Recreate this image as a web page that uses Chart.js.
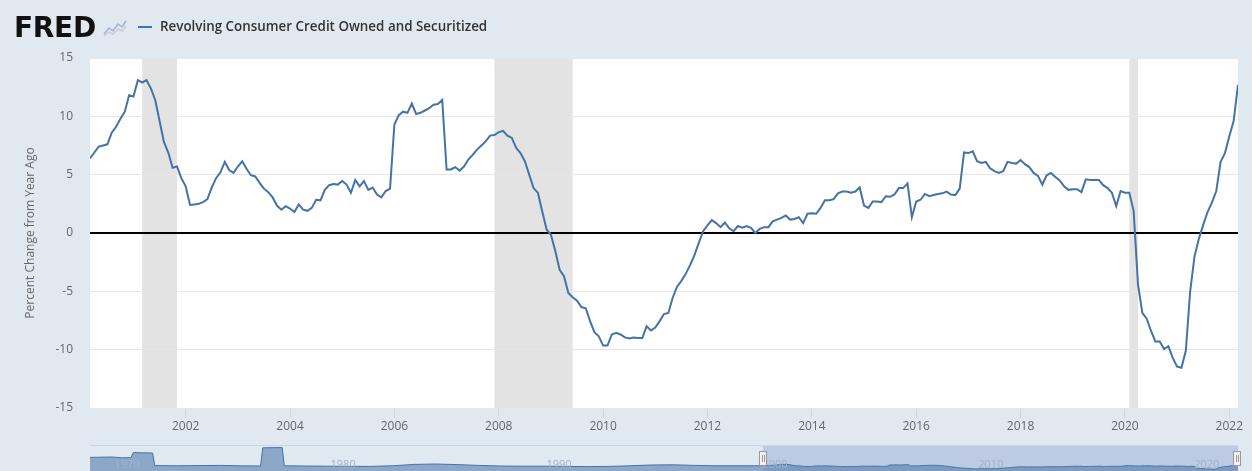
<!DOCTYPE html>
<html lang="en">
<head>
  <meta charset="UTF-8">
  <title>Revolving Consumer Credit Owned and Securitized</title>
  <script src="https://cdn.jsdelivr.net/npm/chart.js"></script>
  <style>
    body {
      margin: 0;
      padding: 0;
      background-color: #e1e9f0;
      font-family: 'Open Sans', sans-serif;
    }
    #wrap {
      position: relative;
      width: 1252px;
      height: 471px;
      overflow: hidden;
    }
    #mainChart { position: absolute; left: 0; top: 0; }
    #navChart { position: absolute; left: 0; top: 445px; }
    .logo {
      position: absolute;
      left: 14px;
      top: 14px;
      font-family: 'DejaVu Sans', sans-serif;
      font-weight: bold;
      font-size: 28px;
      line-height: 28px;
      letter-spacing: -0.3px;
      color: #111;
    }
    .logo-icon { position: absolute; left: 103px; top: 19px; }
    .legend-line {
      position: absolute;
      left: 138px;
      top: 26px;
      width: 14px;
      height: 2px;
      background: #4572a7;
    }
    .legend-text {
      position: absolute;
      left: 160px;
      top: 18px;
      font-family: 'Open Sans', sans-serif;
      font-weight: 600;
      font-size: 13.4px;
      line-height: 16px;
      color: #333;
      white-space: nowrap;
    }
  </style>
</head>
<body>
  <div id="wrap">
    <canvas id="mainChart" width="1252" height="471"></canvas>
    <canvas id="navChart" width="1252" height="26"></canvas>
    <span class="logo">FRED</span>
    <svg class="logo-icon" width="24" height="18">
      <polyline points="1,17 6,13 10,15 15,10 19,12 23,7" fill="none" stroke="#c9ced6" stroke-width="1.5"/>
      <polyline points="1,15 6,9 10,12 15,5 19,8 23,2" fill="none" stroke="#9db4cf" stroke-width="1.5"/>
    </svg>
    <span class="legend-line"></span>
    <span class="legend-text">Revolving Consumer Credit Owned and Securitized</span>
  </div>
  <script>
    // Monthly series, percent change from year ago, first value = Mar 2000
    const startYear = 2000;
    const startMonth = 3;
    const yoy = [
      6.4, 6.9, 7.4, 7.5, 7.6, 8.6, 9.1, 9.8, 10.4, 11.8,                  // 2000 (Mar-Dec)
      11.7, 13.1, 12.9, 13.1, 12.4, 11.4, 9.6, 7.8, 6.9, 5.6, 5.7, 4.7,   // 2001
      4.0, 2.4, 2.45, 2.5, 2.65, 2.9, 3.9, 4.7, 5.2, 6.1, 5.4, 5.15,       // 2002
      5.7, 6.15, 5.5, 4.95, 4.85, 4.3, 3.8, 3.5, 3.05, 2.35, 2.0, 2.3,     // 2003
      2.1, 1.8, 2.45, 2.0, 1.9, 2.15, 2.85, 2.8, 3.7, 4.1, 4.2, 4.15,      // 2004
      4.45, 4.15, 3.45, 4.55, 4.0, 4.45, 3.7, 3.9, 3.3, 3.05, 3.6, 3.8,    // 2005
      9.3, 10.1, 10.4, 10.3, 11.1, 10.2, 10.3, 10.5, 10.7, 11.0, 11.05, 11.4, // 2006
      5.45, 5.45, 5.65, 5.35, 5.7, 6.3, 6.7, 7.15, 7.5, 7.85, 8.35, 8.4,   // 2007
      8.65, 8.75, 8.35, 8.15, 7.3, 6.85, 6.15, 5.0, 3.85, 3.45, 1.85, 0.3, // 2008
      -0.15, -1.55, -3.15, -3.7, -5.15, -5.5, -5.8, -6.35, -6.45, -7.55, -8.5, -8.85, // 2009
      -9.65, -9.65, -8.7, -8.55, -8.7, -8.95, -9.05, -8.95, -9.0, -9.0, -8.0, -8.35,  // 2010
      -8.1, -7.55, -6.95, -6.85, -5.55, -4.6, -4.1, -3.5, -2.75, -1.9, -0.85, 0.15,   // 2011
      0.65, 1.1, 0.85, 0.5, 0.9, 0.4, 0.15, 0.6, 0.45, 0.6, 0.45, 0.0,     // 2012
      0.35, 0.5, 0.5, 1.0, 1.15, 1.3, 1.5, 1.15, 1.2, 1.35, 0.85, 1.65,    // 2013
      1.7, 1.65, 2.15, 2.8, 2.8, 2.9, 3.4, 3.55, 3.55, 3.45, 3.55, 3.9,    // 2014
      2.35, 2.15, 2.7, 2.7, 2.65, 3.15, 3.1, 3.3, 3.85, 3.85, 4.25, 1.35,  // 2015
      2.7, 2.85, 3.35, 3.15, 3.25, 3.35, 3.4, 3.55, 3.3, 3.25, 3.8, 6.9,   // 2016
      6.85, 7.0, 6.15, 6.0, 6.1, 5.55, 5.3, 5.15, 5.3, 6.1, 6.0, 5.95,     // 2017
      6.25, 5.9, 5.65, 5.15, 4.9, 4.15, 4.95, 5.15, 4.8, 4.5, 4.0, 3.7,    // 2018
      3.75, 3.75, 3.5, 4.6, 4.55, 4.55, 4.55, 4.1, 3.85, 3.45, 2.3, 3.6,   // 2019
      3.45, 3.45, 1.9, -4.4, -6.85, -7.35, -8.4, -9.3, -9.3, -9.95, -9.7, -10.7, // 2020
      -11.45, -11.55, -10.1, -5.0, -2.0, -0.5, 0.7, 1.8, 2.6, 3.6, 6.1, 6.85,    // 2021
      8.3, 9.6, 12.7                                                       // 2022 (Jan-Mar)
    ];

    const tickYears = [2002, 2004, 2006, 2008, 2010, 2012, 2014, 2016, 2018, 2020, 2022];
    const yTicks = [-15, -10, -5, 0, 5, 10, 15];

    // recession shading (peak month, trough month)
    const recessionStart = ['2001-03', '2007-12', '2020-02'];
    const recessionEnd = ['2001-11', '2009-06', '2020-04'];

    // navigator: earlier history, read roughly off the small strip
    const navYears = [1969.0, 1970.0, 1970.5, 1970.9, 1971.0, 1971.9, 1972.0, 1973, 1974, 1975, 1976, 1976.9,
                      1977.0, 1977.9, 1978.0, 1979, 1980, 1981, 1982, 1983, 1984, 1985, 1986, 1987,
                      1988, 1989, 1990, 1991, 1992, 1993, 1994, 1995, 1996, 1997, 1998, 1999, 2000.0];
    const navValues = [48, 50, 46, 47, 72, 70, 7, 6, 7, 8, 6, 5,
                       96, 97, 6, 5, 4, 3, 3, 6, 13, 15, 12, 8,
                       5, 4, 4, 3, 2, 3, 6, 10, 11, 8, 6, 6, 6.2];
    const navTickLabels = ['1970', '1980', '1990', '2000', '2010', '2020'];

    const toYear = (s) => {
      const [y, m] = s.split('-').map(Number);
      return y + (m - 1) / 12;
    };

    const points = yoy.map((v, i) => ({ x: startYear + (startMonth - 1 + i) / 12, y: v }));
    const xMin = points[0].x;
    const xMax = points[points.length - 1].x;

    const fontFamily = "'Open Sans', sans-serif";

    // white plot background + recession bars
    const plotBackground = {
      id: 'plotBackground',
      beforeDraw(chart) {
        const { ctx, chartArea: a, scales: { x } } = chart;
        ctx.save();
        ctx.fillStyle = '#ffffff';
        ctx.fillRect(a.left, a.top, a.width, a.height);
        ctx.fillStyle = '#e3e3e3';
        recessionStart.forEach((s, k) => {
          const x0 = x.getPixelForValue(toYear(s));
          const x1 = x.getPixelForValue(toYear(recessionEnd[k]));
          ctx.fillRect(x0, a.top, x1 - x0, a.height);
        });
        ctx.restore();
      }
    };

    new Chart(document.getElementById('mainChart').getContext('2d'), {
      type: 'line',
      data: {
        datasets: [{
          label: 'Revolving Consumer Credit Owned and Securitized',
          data: points,
          borderColor: '#4572a7',
          borderWidth: 2,
          pointRadius: 0,
          tension: 0,
          fill: false,
        }],
      },
      options: {
        responsive: false,
        animation: false,
        layout: { padding: { left: 0, right: 14, top: 58, bottom: 0 } },
        plugins: { legend: { display: false }, tooltip: { enabled: false } },
        scales: {
          x: {
            type: 'linear',
            min: xMin,
            max: xMax,
            afterBuildTicks: (s) => { s.ticks = tickYears.map((v) => ({ value: v })); },
            afterFit: (s) => { s.height = 63; },
            grid: { drawOnChartArea: false, drawTicks: true, tickLength: 10, color: '#ccd6eb' },
            border: { display: false },
            ticks: {
              color: '#666',
              font: { family: fontFamily, size: 12 },
              padding: 1,
              maxRotation: 0,
              autoSkip: false,
              callback: (v) => String(v),
            },
          },
          y: {
            min: -15,
            max: 15,
            afterBuildTicks: (s) => { s.ticks = yTicks.map((v) => ({ value: v })); },
            afterFit: (s) => { s.width = 90; },
            grid: {
              drawTicks: false,
              color: (c) => (c.tick && c.tick.value === 0 ? '#000000' : '#e6e6e6'),
              lineWidth: (c) => (c.tick && c.tick.value === 0 ? 2 : 1),
            },
            border: { display: false },
            ticks: { color: '#666', font: { family: fontFamily, size: 12 }, padding: 17 },
            title: {
              display: true,
              text: 'Percent Change from Year Ago',
              color: '#666',
              font: { family: fontFamily, size: 12 },
              padding: { top: 23, bottom: 0 },
            },
          },
        },
      },
      plugins: [plotBackground],
    });

    // navigator strip under the chart
    const navDecor = {
      id: 'navDecor',
      beforeDatasetsDraw(chart) {
        const { ctx, chartArea: a, scales: { x } } = chart;
        ctx.save();
        const x0 = x.getPixelForValue(xMin);
        ctx.fillStyle = 'rgba(102,133,194,0.3)';
        ctx.fillRect(x0, a.top, a.right - x0, a.height);
        ctx.strokeStyle = '#ccd6eb';
        ctx.lineWidth = 1;
        ctx.beginPath();
        ctx.moveTo(a.left, a.top + 0.5);
        ctx.lineTo(a.right, a.top + 0.5);
        ctx.stroke();
        ctx.restore();
      },
      afterDatasetsDraw(chart) {
        const { ctx, chartArea: a, scales: { x } } = chart;
        ctx.save();
        ctx.font = "11px 'Open Sans', sans-serif";
        ctx.fillStyle = '#a3b1c5';
        ctx.textBaseline = 'middle';
        navTickLabels.forEach((t) => {
          ctx.fillText(t, x.getPixelForValue(Number(t)) + 3, a.top + 20);
        });
        [x.getPixelForValue(xMin), a.right - 1].forEach((hx) => {
          ctx.fillStyle = '#f2f2f2';
          ctx.strokeStyle = '#999';
          ctx.lineWidth = 1;
          ctx.fillRect(hx - 3.5, a.top + 6.5, 7, 14);
          ctx.strokeRect(hx - 3.5, a.top + 6.5, 7, 14);
          ctx.beginPath();
          ctx.moveTo(hx - 0.5, a.top + 10);
          ctx.lineTo(hx - 0.5, a.top + 17);
          ctx.moveTo(hx + 1.5, a.top + 10);
          ctx.lineTo(hx + 1.5, a.top + 17);
          ctx.stroke();
        });
        ctx.restore();
      }
    };

    const navPoints = navYears.map((yr, k) => ({ x: yr, y: navValues[k] })).concat(points);

    new Chart(document.getElementById('navChart').getContext('2d'), {
      type: 'line',
      data: {
        datasets: [{
          data: navPoints,
          borderColor: '#4572a7',
          borderWidth: 1,
          backgroundColor: 'rgba(69,114,167,0.55)',
          fill: 'start',
          pointRadius: 0,
          tension: 0,
        }],
      },
      options: {
        responsive: false,
        animation: false,
        layout: { padding: { left: 90, right: 14, top: 0, bottom: 0 } },
        plugins: { legend: { display: false }, tooltip: { enabled: false } },
        scales: {
          x: { type: 'linear', display: false, min: 1969, max: xMax },
          y: { display: false, min: -20, max: 110 },
        },
      },
      plugins: [navDecor],
    });
  </script>
</body>
</html>
